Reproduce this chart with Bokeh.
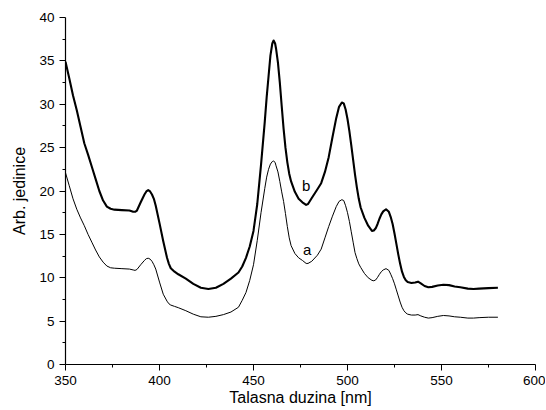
from bokeh.plotting import figure
from bokeh.models import ColumnDataSource, FixedTicker
from bokeh.core.properties import value
from bokeh.embed import file_html
from bokeh.resources import INLINE

wavelength = [350, 352, 354, 356, 358, 360, 362, 364, 366, 368,
              370, 372, 374, 376, 380, 384, 386, 387, 388, 390,
              392, 393, 394, 395, 396, 397, 398, 400, 402, 404,
              405, 406, 408, 410, 414, 418, 422, 426, 430, 434,
              438, 442, 444, 446, 448, 450, 452, 454, 456, 457,
              458, 459, 460, 460.7, 461.5, 462, 463, 464, 465, 466,
              467, 468, 469, 470, 472, 474, 476, 478, 479, 481,
              484, 486, 488, 490, 492, 494, 495.5, 497, 498, 499,
              500, 501, 502, 503, 504, 505, 506, 507, 509, 511,
              513, 514, 515, 516, 517, 518, 519, 520.5, 522, 523,
              524, 525, 526, 527, 528, 529, 530, 531, 532, 534,
              536, 537.5, 539, 541, 543, 545, 548, 551, 554, 557,
              560, 564, 567, 570, 575, 580]

series_b = [34.9, 33.0, 31.0, 29.3, 27.4, 25.5, 24.2, 22.8, 21.4, 20.0,
            18.9, 18.2, 17.95, 17.85, 17.8, 17.75, 17.6, 17.6, 17.75, 18.7,
            19.6, 19.95, 20.1, 19.95, 19.6, 19.1, 18.3, 16.3, 14.2, 12.3,
            11.6, 11.1, 10.7, 10.4, 9.9, 9.3, 8.85, 8.7, 8.85, 9.3,
            9.9, 10.6, 11.3, 12.3, 13.6, 15.4, 18.5, 23.0, 28.0, 30.8,
            33.2, 35.6, 37.0, 37.35, 37.0, 36.4, 34.8, 32.5, 29.8, 27.2,
            25.0, 23.3, 22.0, 21.1, 19.9, 19.1, 18.7, 18.4, 18.5, 19.2,
            20.2, 20.9, 22.2, 23.9, 26.2, 28.4, 29.7, 30.2, 30.1, 29.4,
            28.3, 26.9, 25.3, 23.6, 21.9, 20.4, 19.1, 18.1, 16.9, 16.0,
            15.4, 15.45, 15.7, 16.2, 16.8, 17.3, 17.65, 17.9, 17.6, 17.0,
            16.2, 15.1, 13.9, 12.7, 11.6, 10.7, 10.1, 9.7, 9.5, 9.4,
            9.45, 9.55, 9.35, 9.05, 8.9, 8.95, 9.1, 9.2, 9.15, 9.0,
            8.9, 8.75, 8.7, 8.75, 8.8, 8.85]

series_a = [22.1, 20.6, 19.1, 17.9, 16.9, 16.0, 15.0, 14.1, 13.2, 12.4,
            11.8, 11.35, 11.15, 11.1, 11.05, 11.0, 10.9, 10.85, 10.95, 11.5,
            12.0, 12.2, 12.25, 12.15, 11.9, 11.5, 11.0, 9.5, 8.1, 7.3,
            7.0, 6.85, 6.7, 6.55, 6.2, 5.8, 5.5, 5.45, 5.55, 5.75,
            6.05, 6.6, 7.4, 8.3, 9.7, 11.5, 14.3, 17.5, 20.3, 21.6,
            22.5, 23.1, 23.4, 23.45, 23.3, 22.9, 22.2, 21.1, 19.9, 18.8,
            17.4, 15.9, 14.6, 13.7, 12.8, 12.3, 12.0, 11.65, 11.65, 11.9,
            12.6, 13.3, 14.6, 15.9, 17.1, 18.2, 18.8, 19.0, 18.9, 18.3,
            17.5, 16.5, 15.3, 14.1, 12.9, 12.2, 11.6, 11.2, 10.5, 10.0,
            9.7, 9.65, 9.75, 10.05, 10.4, 10.7, 10.9, 11.05, 10.85, 10.4,
            9.9, 9.3, 8.6, 7.9, 7.2, 6.6, 6.2, 5.95, 5.8, 5.7,
            5.7, 5.75, 5.6, 5.45, 5.35, 5.4, 5.55, 5.65, 5.6, 5.5,
            5.45, 5.35, 5.35, 5.4, 5.45, 5.45]

label_text = ["b", "a"]
label_x = [478, 478.5]
label_y = [20.6, 13.3]

x_ticks = [350, 400, 450, 500, 550, 600]
x_minor = [375, 425, 475, 525, 575]
y_ticks = [0, 5, 10, 15, 20, 25, 30, 35, 40]
y_minor = [2.5, 7.5, 12.5, 17.5, 22.5, 27.5, 32.5, 37.5]

FONT = "Liberation Sans"

p = figure(frame_width=470, frame_height=347, x_range=(350, 600), y_range=(0, 40),
           output_backend="svg", toolbar_location=None,
           min_border_left=65, min_border_top=17, min_border_right=10, min_border_bottom=0)
p.outline_line_color = None
p.grid.visible = False
p.background_fill_color = "white"
p.border_fill_color = "white"

src = ColumnDataSource(dict(x=wavelength, a=series_a, b=series_b))
p.line("x", "b", source=src, line_color="black", line_width=2.1, line_join="round")
p.line("x", "a", source=src, line_color="black", line_width=1, line_join="round")

p.text(x=label_x, y=label_y, text=label_text, text_font=value(FONT), text_font_size="15px",
       text_align="center", text_baseline="middle", text_color="black")

p.xaxis.ticker = FixedTicker(ticks=x_ticks, minor_ticks=x_minor)
p.yaxis.ticker = FixedTicker(ticks=y_ticks, minor_ticks=y_minor)
p.xaxis.axis_label = "Talasna duzina [nm]"
p.yaxis.axis_label = "Arb. jedinice"

for ax in (p.xaxis, p.yaxis):
    ax.axis_line_color = "black"
    ax.axis_line_width = 1.2
    ax.major_tick_line_color = "black"
    ax.minor_tick_line_color = "black"
    ax.major_tick_out = 6
    ax.major_tick_in = 0
    ax.minor_tick_out = 3
    ax.minor_tick_in = 0
    ax.major_label_text_font = FONT
    ax.major_label_text_font_size = "13.5px"
    ax.major_label_text_color = "black"
    ax.axis_label_text_font = FONT
    ax.axis_label_text_font_size = "16px"
    ax.axis_label_text_font_style = "normal"
    ax.axis_label_text_color = "black"

p.xaxis.major_label_standoff = 5
p.xaxis.axis_label_standoff = 1
p.yaxis.major_label_standoff = 5
p.yaxis.axis_label_standoff = 8

open("out.html", "w").write(file_html(p, INLINE))
